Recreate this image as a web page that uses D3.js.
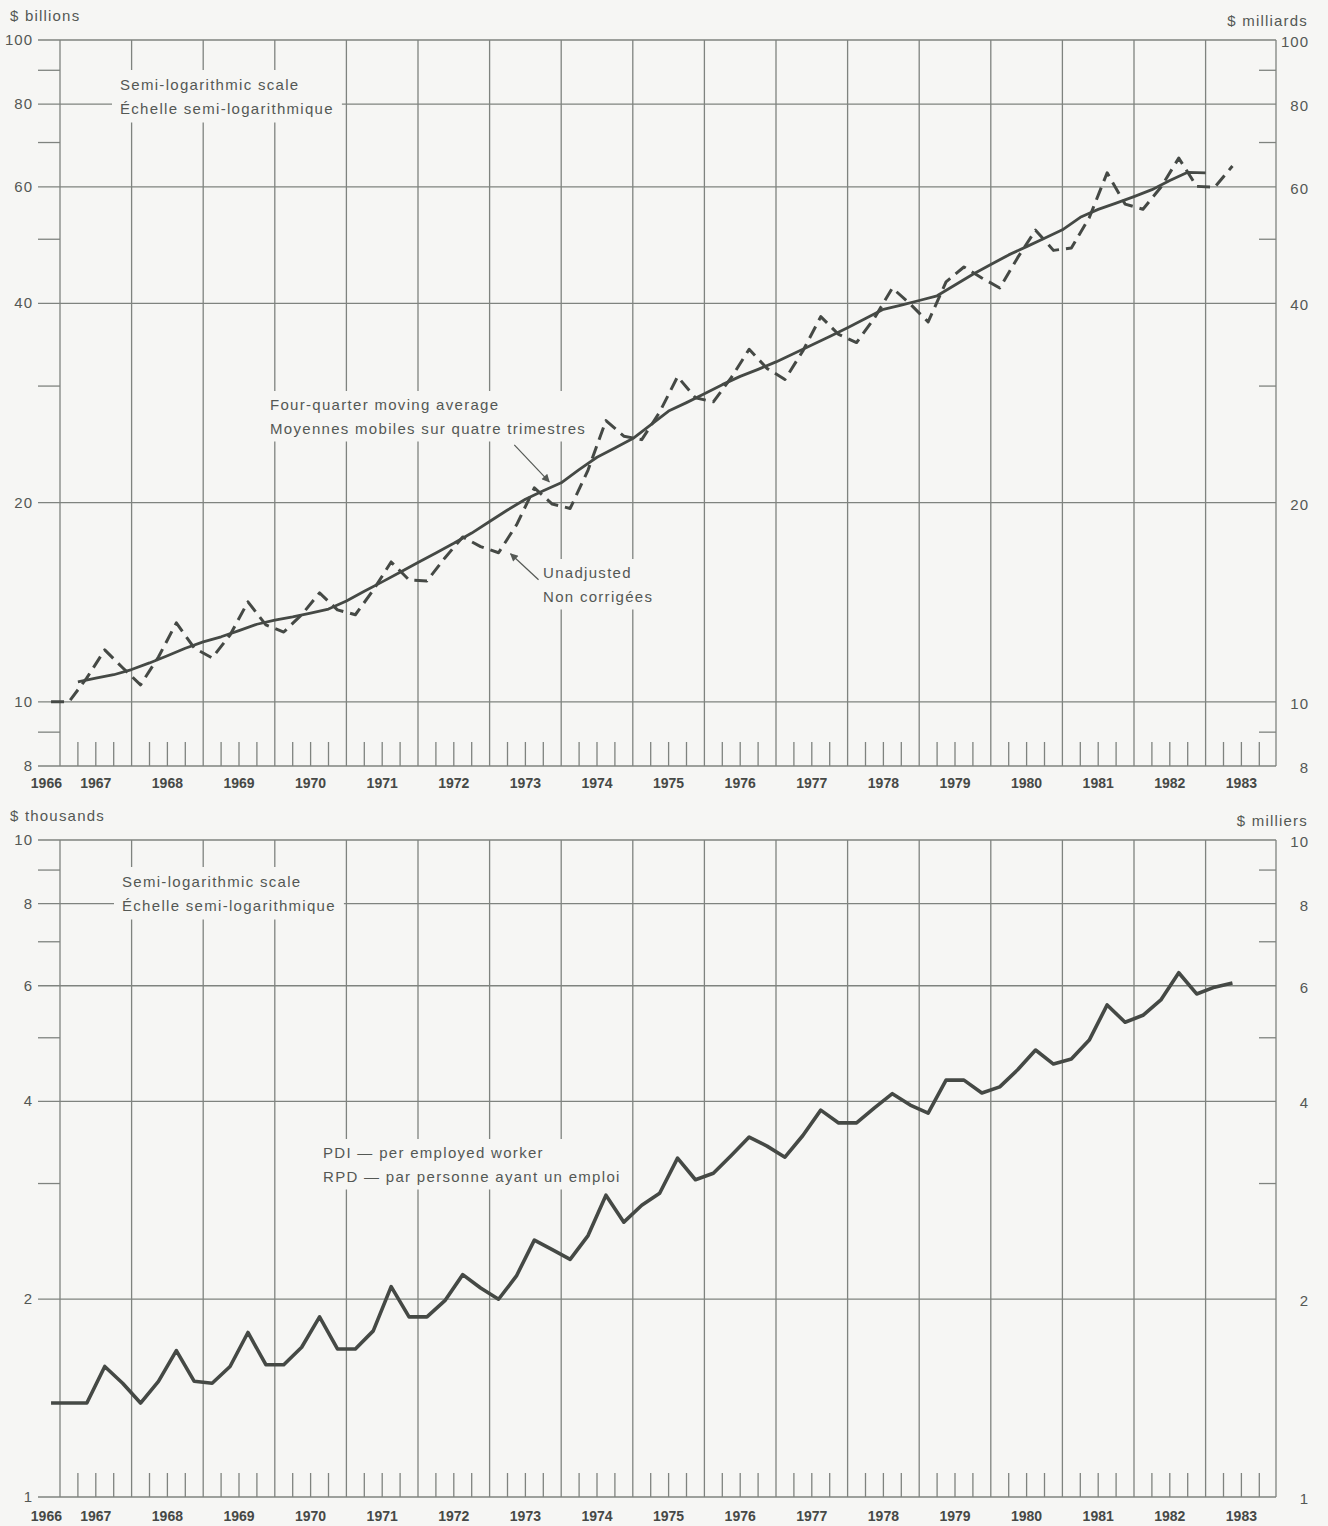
<!DOCTYPE html>
<html>
<head>
<meta charset="utf-8">
<script src="https://cdn.jsdelivr.net/npm/d3@7"></script>
<style>
  body { margin: 0; background: #f6f6f4; }
  svg { display: block; }
  text { font-family: "Liberation Sans", Arial, sans-serif; fill: #545854; }
  .tick-lbl { font-size: 15px; letter-spacing: 1px; }
  .unit { font-size: 15px; letter-spacing: 1.2px; }
  .year { font-size: 14px; font-weight: bold; fill: #464946; }
  .note { font-size: 15px; letter-spacing: 1.3px; }
</style>
</head>
<body>
<svg id="chart" width="1328" height="1526"></svg>
<script>
// ---- data (quarterly, 1966 Q4 .. 1983 Q2) ----
const firstQuarter = 1966.75;          // 1966 Q4
const yearLabels = ["1966","1967","1968","1969","1970","1971","1972","1973","1974",
                    "1975","1976","1977","1978","1979","1980","1981","1982","1983"];

// $ billions, not seasonally adjusted
const unadjusted = [
  10.0,
  10.0, 10.87, 11.98, 11.26,   // 1967
  10.61, 11.69, 13.16, 12.06,  // 1968
  11.65, 12.62, 14.16, 13.07,  // 1969
  12.75, 13.54, 14.61, 13.77,  // 1970
  13.54, 14.75, 16.27, 15.28,  // 1971
  15.23, 16.5, 17.75, 17.16,   // 1972
  16.8, 18.5, 21.05, 19.9,     // 1973
  19.6, 22.4, 26.6, 25.2,      // 1974
  24.9, 27.4, 31.0, 28.8,      // 1975
  28.4, 30.9, 34.1, 31.9,      // 1976
  30.7, 33.9, 38.2, 35.9,      // 1977
  34.9, 38.0, 42.2, 39.9,      // 1978
  37.5, 43.1, 45.4, 43.7,      // 1979
  42.2, 46.9, 51.6, 48.1,      // 1980
  48.5, 53.9, 63.0, 56.5,      // 1981
  55.5, 59.9, 66.3, 60.1,      // 1982
  59.9, 64.5                   // 1983
];

// four-quarter moving average, centred on quarter boundaries 1967.25 .. 1983.0
const maStart = 1967.25;
const movingAvg = [
  10.72, 10.86, 10.99,
  11.19, 11.45, 11.74, 12.05,
  12.32, 12.54, 12.81, 13.10,
  13.29, 13.44, 13.62, 13.81,
  14.20, 14.69, 15.18, 15.70,
  16.24, 16.79, 17.36, 17.99,
  18.73, 19.49, 20.24, 20.84,
  21.43, 22.43, 23.42, 24.19,
  24.99, 26.22, 27.5, 28.32,
  29.2, 30.15, 31.03, 31.8,
  32.63, 33.59, 34.6, 35.66,
  36.76, 37.95, 39.18, 39.75,
  40.4, 41.07, 42.63, 44.26,
  45.80, 47.35, 48.73, 50.17,
  51.67, 53.97, 55.47, 56.69,
  57.99, 59.41, 61.32, 63.1,
  63.0
];

// $ thousands, PDI per employed worker
const pdiPerWorker = [
  1.39,
  1.39, 1.39, 1.58, 1.49,  // 1967
  1.39, 1.50, 1.67, 1.50,  // 1968
  1.49, 1.58, 1.78, 1.59,  // 1969
  1.59, 1.69, 1.88, 1.68,  // 1970
  1.68, 1.79, 2.09, 1.88,  // 1971
  1.88, 1.99, 2.18, 2.08,  // 1972
  2.00, 2.17, 2.46, 2.38,  // 1973
  2.30, 2.50, 2.88, 2.62,  // 1974
  2.78, 2.90, 3.28, 3.04,  // 1975
  3.11, 3.31, 3.53, 3.42,  // 1976
  3.29, 3.55, 3.88, 3.71,  // 1977
  3.71, 3.91, 4.11, 3.95,  // 1978
  3.84, 4.31, 4.31, 4.12,  // 1979
  4.21, 4.47, 4.79, 4.56,  // 1980
  4.64, 4.96, 5.61, 5.28,  // 1981
  5.41, 5.71, 6.28, 5.83,  // 1982
  5.97, 6.06               // 1983
];

const topMajor = [8, 10, 20, 40, 60, 80, 100];
const topMinor = [9, 30, 50, 70, 90];
const botMajor = [1, 2, 4, 6, 8, 10];
const botMinor = [3, 5, 7, 9];

// ---- layout ----
const svg = d3.select("#chart");
const bg = "#f6f6f4";
const gridCol = "#7f837f";
const lineCol = "#454945";
const left = 60, right = 1276;

const x = d3.scaleLinear().domain([1967, 1983]).range([left, 1205.6]);
const qDate = i => firstQuarter + 0.125 + i * 0.25;   // quarter centre
const maDate = i => maStart + i * 0.25;

function drawPanel(cfg) {
  const y = cfg.y;
  const [bottom, top] = y.range();
  const g = svg.append("g");

  // vertical year lines and right border
  g.selectAll(".vgrid").data(d3.range(1967, 1984)).join("line")
    .attr("x1", d => x(d)).attr("x2", d => x(d))
    .attr("y1", top).attr("y2", bottom)
    .attr("stroke", gridCol).attr("stroke-width", 1.3);
  g.append("line").attr("x1", right).attr("x2", right)
    .attr("y1", top).attr("y2", bottom)
    .attr("stroke", gridCol).attr("stroke-width", 1.3);

  // quarter ticks along the bottom
  const qt = [];
  d3.range(1967, 1984).forEach(yr => [0.25, 0.5, 0.75].forEach(q => qt.push(yr + q)));
  g.selectAll(".qtick").data(qt).join("line")
    .attr("x1", d => x(d)).attr("x2", d => x(d))
    .attr("y1", bottom - 24).attr("y2", bottom)
    .attr("stroke", gridCol).attr("stroke-width", 1.3);

  // horizontal major lines
  g.selectAll(".hgrid").data(cfg.major).join("line")
    .attr("x1", left - 22).attr("x2", right)
    .attr("y1", d => y(d)).attr("y2", d => y(d))
    .attr("stroke", gridCol).attr("stroke-width", 1.3);

  // minor ticks: outside on the left, inside on the right
  g.selectAll(".mtl").data(cfg.minor).join("line")
    .attr("x1", left - 22).attr("x2", left)
    .attr("y1", d => y(d)).attr("y2", d => y(d))
    .attr("stroke", gridCol).attr("stroke-width", 1.3);
  g.selectAll(".mtr").data(cfg.minor).join("line")
    .attr("x1", right - 17).attr("x2", right)
    .attr("y1", d => y(d)).attr("y2", d => y(d))
    .attr("stroke", gridCol).attr("stroke-width", 1.3);

  // tick labels
  g.selectAll(".ll").data(cfg.major).join("text")
    .attr("class", "tick-lbl").attr("text-anchor", "end")
    .attr("x", 33).attr("y", d => y(d) + 5).text(d => d);
  g.selectAll(".rl").data(cfg.major).join("text")
    .attr("class", "tick-lbl").attr("text-anchor", "end")
    .attr("x", 1309).attr("y", d => y(d) + 7).text(d => d);

  // units
  g.append("text").attr("class", "unit").attr("x", 10).attr("y", top - 19).text(cfg.unitL);
  g.append("text").attr("class", "unit").attr("text-anchor", "end")
    .attr("x", 1308).attr("y", top - 14).text(cfg.unitR);

  // year labels
  g.selectAll(".yl").data(yearLabels).join("text")
    .attr("class", "year").attr("text-anchor", "middle")
    .attr("x", d => +d === 1966 ? x(1966.81) : x(+d + 0.5))
    .attr("y", bottom + cfg.yearDy).text(d => d);

  return g;
}

function note(g, lines, tx, ty, pad) {
  const ng = g.append("g");
  const r = ng.append("rect").attr("fill", bg);
  lines.forEach((s, i) => ng.append("text").attr("class", "note")
    .attr("x", tx).attr("y", ty + i * 23.5).text(s));
  const b = ng.node().getBBox();
  r.attr("x", b.x - pad[0]).attr("y", b.y - pad[1])
   .attr("width", b.width + 2 * pad[0]).attr("height", b.height + 2 * pad[1]);
}

function arrow(g, from, to) {
  g.append("line")
    .attr("x1", from[0]).attr("y1", from[1]).attr("x2", to[0]).attr("y2", to[1])
    .attr("stroke", "#555955").attr("stroke-width", 1.2)
    .attr("marker-end", "url(#ah)");
}

svg.append("defs").append("marker")
  .attr("id", "ah").attr("viewBox", "0 0 10 10").attr("refX", 9).attr("refY", 5)
  .attr("markerWidth", 10).attr("markerHeight", 8).attr("markerUnits", "userSpaceOnUse")
  .attr("orient", "auto")
  .append("path").attr("d", "M0,0 L10,5 L0,10 Z").attr("fill", "#555955");

svg.append("rect").attr("width", 1328).attr("height", 1526).attr("fill", bg).lower();

// ---- top panel ----
const yTop = d3.scaleLog().domain([8, 100]).range([766, 40]);
const gTop = drawPanel({ y: yTop, major: topMajor, minor: topMinor,
  unitL: "$ billions", unitR: "$ milliards", yearDy: 22 });

note(gTop, ["Semi-logarithmic scale", "Échelle semi-logarithmique"], 120, 90, [8, 6]);
note(gTop, ["Four-quarter moving average", "Moyennes mobiles sur quatre trimestres"], 270, 410, [6, 5]);
note(gTop, ["Unadjusted", "Non corrigées"], 543, 578, [6, 5]);

gTop.append("path").datum(unadjusted)
  .attr("d", d3.line().x((d, i) => x(qDate(i))).y(d => yTop(d)))
  .attr("fill", "none").attr("stroke", lineCol).attr("stroke-width", 3)
  .attr("stroke-dasharray", "13,7").attr("stroke-linejoin", "round");
gTop.append("path").datum(movingAvg)
  .attr("d", d3.line().x((d, i) => x(maDate(i))).y(d => yTop(d)))
  .attr("fill", "none").attr("stroke", lineCol).attr("stroke-width", 2.8)
  .attr("stroke-linejoin", "round");

// arrows pointing at the series
const maIdx = 26;   // 1973.75
const tipA = [x(maDate(maIdx)) + 6, yTop(movingAvg[maIdx]) - 9];
arrow(gTop, [tipA[0] - 35, tipA[1] - 37], tipA);
const unIdx = 25;   // 1973 Q1
const tipB = [x(qDate(unIdx)) + 12, yTop(unadjusted[unIdx]) + 1];
arrow(gTop, [tipB[0] + 28, tipB[1] + 26], tipB);

// ---- bottom panel ----
const yBot = d3.scaleLog().domain([1, 10]).range([1497, 840]);
const gBot = drawPanel({ y: yBot, major: botMajor, minor: botMinor,
  unitL: "$ thousands", unitR: "$ milliers", yearDy: 24 });

note(gBot, ["Semi-logarithmic scale", "Échelle semi-logarithmique"], 122, 887, [8, 6]);
note(gBot, ["PDI — per employed worker", "RPD — par personne ayant un emploi"], 323, 1158, [6, 5]);

gBot.append("path").datum(pdiPerWorker)
  .attr("d", d3.line().x((d, i) => x(qDate(i))).y(d => yBot(d)))
  .attr("fill", "none").attr("stroke", lineCol).attr("stroke-width", 3.6)
  .attr("stroke-linejoin", "round");
</script>
</body>
</html>
